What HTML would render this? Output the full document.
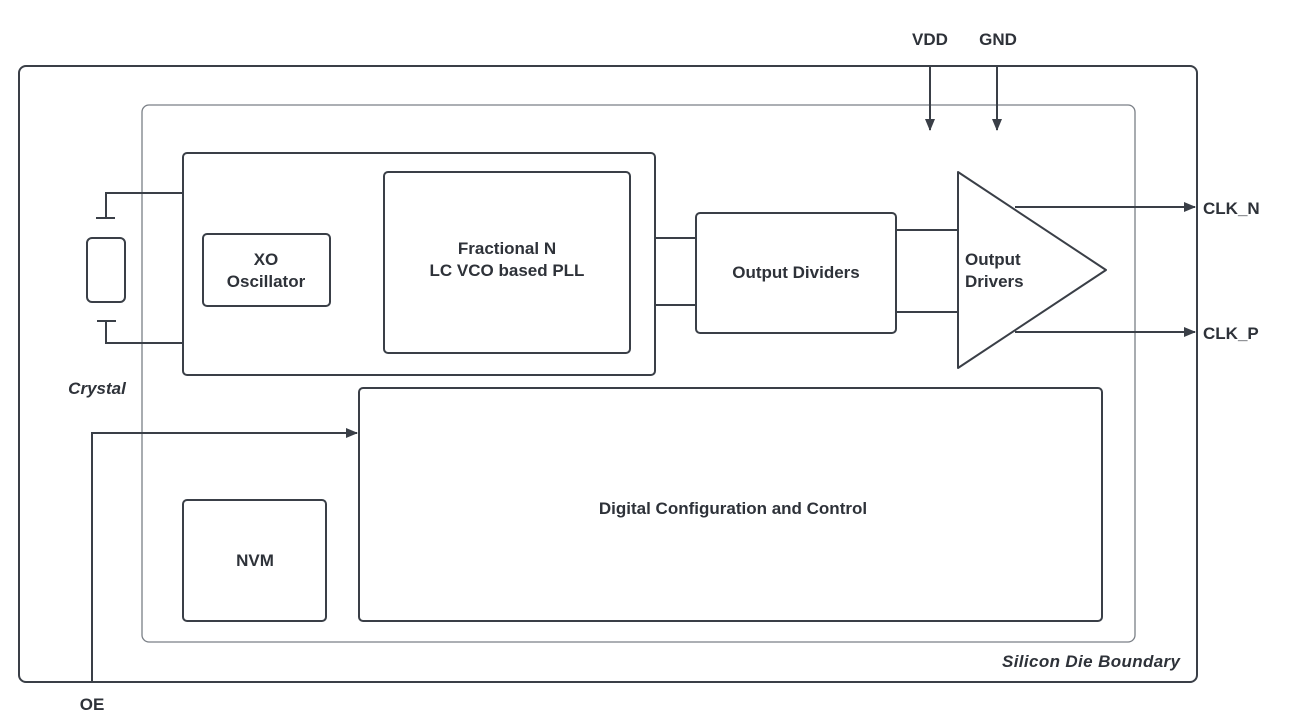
<!DOCTYPE html>
<html><head><meta charset="utf-8"><style>
html,body{margin:0;padding:0;background:#fff;}
svg{display:block;}
text{font-family:"Liberation Sans",sans-serif;font-weight:bold;fill:#2e3239;font-size:17px;}
</style></head><body>
<svg width="1305" height="721" viewBox="0 0 1305 721" xmlns="http://www.w3.org/2000/svg">
<defs>
<marker id="a" markerWidth="12" markerHeight="10" refX="11" refY="5" orient="auto" markerUnits="userSpaceOnUse">
<path d="M0,0 L12,5 L0,10 Z" fill="#3a3f47"/></marker>
</defs>
<g fill="none" stroke="#3a3f47" stroke-width="2">
<rect x="19" y="66" width="1178" height="616" rx="7"/>
<rect x="142" y="105" width="993" height="537" rx="7" stroke="#7a7f86" stroke-width="1.3"/>
<rect x="183" y="153" width="472" height="222" rx="4"/>
<rect x="203" y="234" width="127" height="72" rx="4"/>
<rect x="384" y="172" width="246" height="181" rx="4"/>
<rect x="696" y="213" width="200" height="120" rx="4"/>
<rect x="359" y="388" width="743" height="233" rx="4"/>
<rect x="183" y="500" width="143" height="121" rx="4"/>
<rect x="87" y="238" width="38" height="64" rx="5"/>
<path d="M96,218 H115 M106,218 V193 H183"/>
<path d="M97,321 H116 M106,321 V343 H183"/>
<path d="M655,238 H696 M655,305 H696"/>
<path d="M896,230 H958 M896,312 H958"/>
<path d="M958,172 L1106,270 L958,368 Z" stroke-linejoin="round"/>
<path d="M1015,207 H1195" marker-end="url(#a)"/>
<path d="M1015,332 H1195" marker-end="url(#a)"/>
<path d="M930,66 V130" marker-end="url(#a)"/>
<path d="M997,66 V130" marker-end="url(#a)"/>
<path d="M92,683 V433 H357" marker-end="url(#a)"/>
</g>
<text x="266" y="265" text-anchor="middle">XO</text>
<text x="266" y="287" text-anchor="middle">Oscillator</text>
<text x="507" y="254" text-anchor="middle">Fractional N</text>
<text x="507" y="276" text-anchor="middle">LC VCO based PLL</text>
<text x="796" y="278" text-anchor="middle">Output Dividers</text>
<text x="965" y="265">Output</text>
<text x="965" y="287">Drivers</text>
<text x="733" y="514" text-anchor="middle">Digital Configuration and Control</text>
<text x="255" y="566" text-anchor="middle">NVM</text>
<text x="930" y="45" text-anchor="middle">VDD</text>
<text x="998" y="45" text-anchor="middle">GND</text>
<text x="1203" y="214">CLK_N</text>
<text x="1203" y="339">CLK_P</text>
<text x="92" y="710" text-anchor="middle">OE</text>
<text x="97" y="394" text-anchor="middle" font-style="italic">Crystal</text>
<text x="1180" y="667" text-anchor="end" font-style="italic" font-weight="normal" textLength="178">Silicon Die Boundary</text>
</svg>
</body></html>
